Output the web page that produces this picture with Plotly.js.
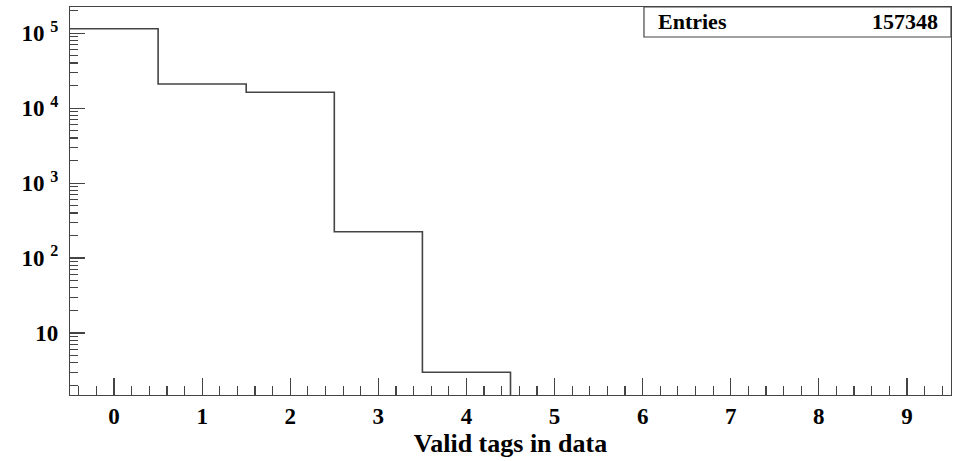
<!DOCTYPE html>
<html>
<head>
<meta charset="utf-8">
<script src="https://cdn.plot.ly/plotly-3.0.1.min.js"></script>
<style>html,body{margin:0;padding:0;background:#fff;}#chart{width:954px;height:461px;}</style>
</head>
<body>
<div id="chart"></div>
<script>
// Data
const binCenters = [0, 1, 2, 3, 4, 5, 6, 7, 8, 9];
const binCounts  = [115000, 21000, 16300, 225, 3, 0, 0, 0, 0, 0];
const entries = 157348;
const xTickVals = [0, 1, 2, 3, 4, 5, 6, 7, 8, 9];
const yTickVals = [10, 100, 1000, 10000, 100000];
const yTickText = ['10', '10 <sup>2</sup>', '10 <sup>3</sup>', '10 <sup>4</sup>', '10 <sup>5</sup>'];
const xTitle = 'Valid tags in data';

// Build step outline (histogram) from bins
const binW = 1;
const floorVal = 0.1; // zero bins drawn below visible range (log axis)
const stepX = [], stepY = [];
binCenters.forEach((c, i) => {
  stepX.push(c - binW / 2);
  stepY.push(binCounts[i] > 0 ? binCounts[i] : floorVal);
});
stepX.push(binCenters[binCenters.length - 1] + binW / 2);
stepY.push(stepY[stepY.length - 1]);

const lineCol = '#444';
const font = 'Liberation Serif, Times New Roman, serif';

const trace = {
  x: stepX, y: stepY, type: 'scatter', mode: 'lines',
  line: {shape: 'hv', color: lineCol, width: 1.6},
  hoverinfo: 'skip', showlegend: false, cliponaxis: true
};

const layout = {
  width: 954, height: 461,
  margin: {l: 70, r: 3, t: 7, b: 66},
  paper_bgcolor: '#fff', plot_bgcolor: '#fff',
  font: {family: font, color: '#000'},
  xaxis: {
    range: [-0.5, 9.5], showgrid: false, zeroline: false,
    showline: true, linecolor: lineCol, linewidth: 1.2, mirror: true,
    ticks: 'inside', ticklen: 17, tickcolor: lineCol, tickwidth: 1.2,
    tickvals: xTickVals, ticktext: xTickVals.map(String),
    tickfont: {family: font, size: 23, color: '#000', weight: 'bold'},
    minor: {ticks: 'inside', dtick: 0.2, tick0: 0, ticklen: 9, tickcolor: lineCol, tickwidth: 1.2, showgrid: false},
    title: {text: '<b>' + xTitle + '</b>', font: {family: font, size: 26, color: '#000'}, standoff: 5}
  },
  yaxis: {
    type: 'log', range: [0.173, 5.35], showgrid: false, zeroline: false,
    showline: true, linecolor: lineCol, linewidth: 1.2, mirror: true,
    ticks: 'inside', ticklen: 15, tickcolor: lineCol, tickwidth: 1.2,
    tickvals: yTickVals, ticktext: yTickText,
    tickfont: {family: font, size: 23, color: '#000', weight: 'bold'},
    minor: {ticks: 'inside', dtick: 'D1', ticklen: 8, tickcolor: lineCol, tickwidth: 1.2, showgrid: false},
    ticklabelstandoff: 6
  },
  shapes: [{
    type: 'rect', xref: 'paper', yref: 'paper', x0: 0.6515, x1: 1, y0: 0.9227, y1: 1,
    line: {color: lineCol, width: 1.2}, fillcolor: '#fff', layer: 'above'
  }],
  annotations: [
    {xref: 'paper', yref: 'paper', x: 0.665, y: 0.9614, xanchor: 'left', yanchor: 'middle',
     text: '<b>Entries</b>', showarrow: false, font: {family: font, size: 22, color: '#000'}},
    {xref: 'paper', yref: 'paper', x: 0.987, y: 0.9614, xanchor: 'right', yanchor: 'middle',
     text: '<b>' + entries + '</b>', showarrow: false, font: {family: font, size: 22, color: '#000'}}
  ]
};

Plotly.newPlot('chart', [trace], layout, {displayModeBar: false, staticPlot: true});
</script>
</body>
</html>
